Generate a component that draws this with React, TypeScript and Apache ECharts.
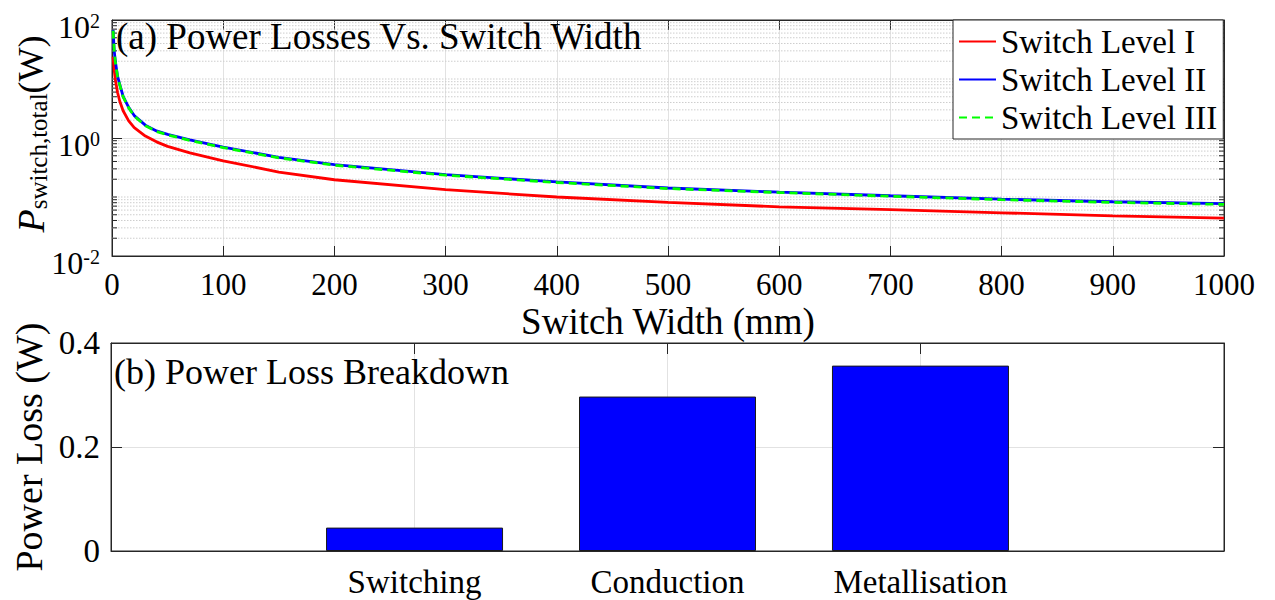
import React, { useEffect, useRef } from "react";
import * as echarts from "echarts";

const SERIF = "Liberation Serif";

// Panel (a): total switch loss against switch width, one curve per switch level
const switchWidths = [1, 2, 3, 5, 7, 10, 15, 20, 30, 40, 50, 70, 100, 150, 200, 300, 400, 500, 600, 700, 800, 900, 1000];
const lossLevelI = [24, 14, 9.8, 5.9, 4.2, 2.9, 1.95, 1.5, 1.08, 0.86, 0.72, 0.56, 0.41, 0.265, 0.196, 0.133, 0.1, 0.081, 0.068, 0.061, 0.054, 0.048, 0.044];
const lossLevelII = [68, 30, 20, 11.2, 8.0, 5.1, 3.3, 2.4, 1.65, 1.32, 1.15, 0.93, 0.7, 0.47, 0.353, 0.239, 0.18, 0.142, 0.121, 0.105, 0.092, 0.083, 0.077];
const lossLevelIII = [66, 29.4, 19.6, 11.0, 7.85, 5.0, 3.24, 2.35, 1.62, 1.29, 1.13, 0.91, 0.686, 0.461, 0.346, 0.234, 0.176, 0.139, 0.119, 0.103, 0.09, 0.081, 0.075];
const levelNames = ["Switch Level I", "Switch Level II", "Switch Level III"];
const levelColors = ["#ff0000", "#0000ff", "#00ff00"];

// Minor (unlabelled) decades and sub-decade values of the log axis
const logMinorValues = [
  0.02, 0.03, 0.04, 0.05, 0.06, 0.07, 0.08, 0.09, 0.1,
  0.2, 0.3, 0.4, 0.5, 0.6, 0.7, 0.8, 0.9,
  2, 3, 4, 5, 6, 7, 8, 9, 10,
  20, 30, 40, 50, 60, 70, 80, 90,
];

// Panel (b): breakdown of the loss
const breakdownCategories = ["Switching", "Conduction", "Metallisation"];
const breakdownPositions = [1, 2, 3];
const breakdownValues = [0.045, 0.297, 0.3565];

const AXIS_COLOR = "#262626";
const GRID_COLOR = "#e2e2e2";

function supLabel(v: number): string {
  const e = Math.round(Math.log10(v));
  return `{b|10}{e|${e}}`;
}

function categoryLabel(v: number): string {
  const i = breakdownPositions.indexOf(Math.round(v * 1000) / 1000);
  return i >= 0 ? breakdownCategories[i] : "";
}

export default function App() {
  const ref = useRef<HTMLDivElement>(null);

  useEffect(() => {
    if (!ref.current) return;
    const chart = echarts.init(ref.current, undefined, { renderer: "svg" });

    const tickFont = { fontFamily: SERIF, color: "#000" };

    const option: any = {
      animation: false,
      grid: [
        { left: 112, top: 20, width: 1112, height: 236, show: true, borderColor: AXIS_COLOR, borderWidth: 1 },
        { left: 111, top: 343, width: 1113, height: 208, show: true, borderColor: AXIS_COLOR, borderWidth: 1 },
      ],
      legend: {
        data: levelNames,
        orient: "vertical",
        left: 953,
        top: 20,
        padding: [5, 6, 5, 5],
        itemGap: 5,
        itemWidth: 37,
        itemHeight: 14,
        backgroundColor: "#ffffff",
        borderColor: AXIS_COLOR,
        borderWidth: 1,
        itemStyle: { opacity: 0, borderWidth: 0 },
        textStyle: { fontFamily: SERIF, fontSize: 33, lineHeight: 33, color: "#000" },
      },
      xAxis: [
        {
          type: "value",
          gridIndex: 0,
          min: 0,
          max: 1000,
          interval: 100,
          position: "bottom",
          name: "Switch Width (mm)",
          nameLocation: "middle",
          nameGap: 47,
          nameTextStyle: { fontFamily: SERIF, fontSize: 37, color: "#000" },
          axisLine: { onZero: false, lineStyle: { color: AXIS_COLOR } },
          axisTick: { inside: true, length: 10, lineStyle: { color: AXIS_COLOR } },
          axisLabel: { ...tickFont, fontSize: 31, margin: 13, formatter: (v: number) => String(v) },
          splitLine: { show: true, lineStyle: { color: GRID_COLOR, width: 1 } },
        },
        {
          type: "value",
          gridIndex: 0,
          min: 0,
          max: 1000,
          interval: 100,
          position: "top",
          axisLine: { onZero: false, lineStyle: { color: AXIS_COLOR } },
          axisTick: { inside: true, length: 10, lineStyle: { color: AXIS_COLOR } },
          axisLabel: { show: false },
          splitLine: { show: false },
        },
        {
          type: "value",
          gridIndex: 1,
          min: -0.2,
          max: 4.2,
          position: "bottom",
          axisLine: { onZero: false, lineStyle: { color: AXIS_COLOR } },
          axisTick: { inside: true, length: 11, customValues: breakdownPositions, lineStyle: { color: AXIS_COLOR } },
          axisLabel: { ...tickFont, fontSize: 33, margin: 14, customValues: breakdownPositions, formatter: categoryLabel },
          splitLine: { show: true, lineStyle: { color: GRID_COLOR, width: 1 } },
        },
        {
          type: "value",
          gridIndex: 1,
          min: -0.2,
          max: 4.2,
          position: "top",
          axisLine: { onZero: false, lineStyle: { color: AXIS_COLOR } },
          axisTick: { inside: true, length: 11, customValues: breakdownPositions, lineStyle: { color: AXIS_COLOR } },
          axisLabel: { show: false },
          splitLine: { show: false },
        },
      ],
      yAxis: [
        {
          type: "log",
          logBase: 10,
          gridIndex: 0,
          min: 0.01,
          max: 100,
          interval: 2,
          position: "left",
          axisLine: { onZero: false, lineStyle: { color: AXIS_COLOR } },
          axisTick: { inside: true, length: 10, lineStyle: { color: AXIS_COLOR } },
          axisLabel: {
            ...tickFont,
            margin: 12,
            padding: [14, 0, 0, 0],
            formatter: supLabel,
            rich: {
              b: { fontFamily: SERIF, fontSize: 32, lineHeight: 32, color: "#000", verticalAlign: "bottom" },
              e: { fontFamily: SERIF, fontSize: 20, lineHeight: 20, color: "#000", verticalAlign: "top" },
            },
          },
          splitLine: { show: true, lineStyle: { color: GRID_COLOR, width: 1 } },
        },
        {
          type: "log",
          logBase: 10,
          gridIndex: 0,
          min: 0.01,
          max: 100,
          interval: 2,
          position: "right",
          axisLine: { onZero: false, lineStyle: { color: AXIS_COLOR } },
          axisTick: { inside: true, length: 10, lineStyle: { color: AXIS_COLOR } },
          axisLabel: { show: false },
          splitLine: { show: false },
        },
        {
          type: "value",
          gridIndex: 1,
          min: 0,
          max: 0.4,
          interval: 0.2,
          position: "left",
          name: "Power Loss (W)",
          nameLocation: "middle",
          nameRotate: 90,
          nameGap: 46,
          nameTextStyle: { fontFamily: SERIF, fontSize: 38, color: "#000" },
          axisLine: { onZero: false, lineStyle: { color: AXIS_COLOR } },
          axisTick: { inside: true, length: 11, lineStyle: { color: AXIS_COLOR } },
          axisLabel: { ...tickFont, fontSize: 33, margin: 11, formatter: (v: number) => String(Math.round(v * 10) / 10) },
          splitLine: { show: true, lineStyle: { color: GRID_COLOR, width: 1 } },
        },
        {
          type: "value",
          gridIndex: 1,
          min: 0,
          max: 0.4,
          interval: 0.2,
          position: "right",
          axisLine: { onZero: false, lineStyle: { color: AXIS_COLOR } },
          axisTick: { inside: true, length: 11, lineStyle: { color: AXIS_COLOR } },
          axisLabel: { show: false },
          splitLine: { show: false },
        },
      ],
      series: [
        {
          // dotted minor grid lines and short minor ticks on both sides of the log axis
          type: "custom",
          xAxisIndex: 0,
          yAxisIndex: 0,
          silent: true,
          z: 1,
          data: logMinorValues.map((v) => [0, v]),
          renderItem: (_params: any, api: any) => {
            const v = api.value(1);
            const a = api.coord([0, v]);
            const b = api.coord([1000, v]);
            return {
              type: "group",
              children: [
                {
                  type: "line",
                  shape: { x1: a[0], y1: a[1], x2: b[0], y2: b[1] },
                  style: { stroke: "#cdcdcd", lineWidth: 1, lineDash: [1.5, 1.5] },
                },
                {
                  type: "line",
                  shape: { x1: a[0], y1: a[1], x2: a[0] + 5, y2: a[1] },
                  style: { stroke: AXIS_COLOR, lineWidth: 1 },
                },
                {
                  type: "line",
                  shape: { x1: b[0] - 5, y1: b[1], x2: b[0], y2: b[1] },
                  style: { stroke: AXIS_COLOR, lineWidth: 1 },
                },
              ],
            };
          },
        },
        ...[lossLevelI, lossLevelII, lossLevelIII].map((vals, i) => ({
          name: levelNames[i],
          type: "line",
          xAxisIndex: 0,
          yAxisIndex: 0,
          z: 3 + i,
          symbol: "none",
          showSymbol: false,
          smooth: false,
          data: switchWidths.map((w, j) => [w, vals[j]]),
          itemStyle: { color: levelColors[i] },
          lineStyle: {
            color: levelColors[i],
            width: 2.8,
            type: i === 2 ? [8, 5] : "solid",
          },
        })),
        {
          name: "Power Loss",
          type: "bar",
          xAxisIndex: 2,
          yAxisIndex: 2,
          barWidth: 177,
          z: 2,
          data: breakdownPositions.map((p, i) => [p, breakdownValues[i]]),
          itemStyle: { color: "#0000ff", borderColor: "#1a1a1a", borderWidth: 1 },
        },
      ],
      graphic: [
        {
          type: "text",
          x: 116,
          y: 36,
          z: 10,
          style: {
            text: "(a) Power Losses Vs. Switch Width",
            fontFamily: SERIF,
            fontSize: 37,
            fill: "#000",
            verticalAlign: "middle",
          },
        },
        {
          type: "text",
          x: 114,
          y: 372,
          z: 10,
          style: {
            text: "(b) Power Loss Breakdown",
            fontFamily: SERIF,
            fontSize: 36,
            fill: "#000",
            verticalAlign: "middle",
          },
        },
        {
          type: "text",
          x: 31,
          y: 134,
          rotation: Math.PI / 2,
          z: 10,
          style: {
            text: "{p|P}{s|switch,total}{w|(W)}",
            align: "center",
            verticalAlign: "middle",
            rich: {
              p: { fontFamily: SERIF, fontStyle: "italic", fontSize: 38, lineHeight: 40, fill: "#000", verticalAlign: "middle" },
              s: { fontFamily: SERIF, fontSize: 25, lineHeight: 20, fill: "#000", verticalAlign: "bottom" },
              w: { fontFamily: SERIF, fontSize: 36, lineHeight: 40, fill: "#000", verticalAlign: "middle" },
            },
          },
        },
      ],
    };

    chart.setOption(option);
    return () => chart.dispose();
  }, []);

  return (
    <div
      ref={ref}
      style={{ position: "fixed", left: 0, top: 0, width: 1275, height: 600, background: "#fff" }}
    />
  );
}
